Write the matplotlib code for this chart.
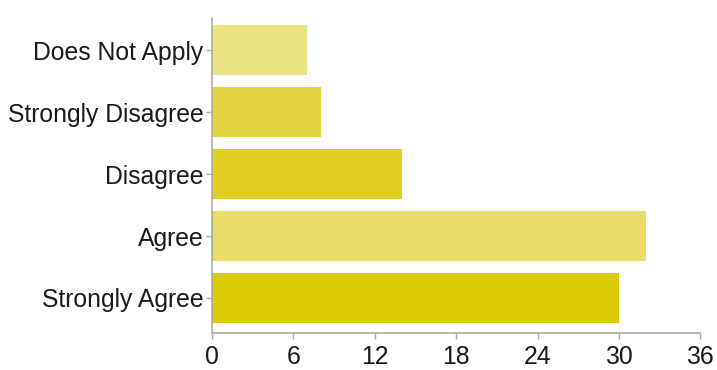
import matplotlib
matplotlib.use('Agg')
import matplotlib.pyplot as plt

# Categories listed bottom to top
categories = ['Strongly Agree', 'Agree', 'Disagree', 'Strongly Disagree', 'Does Not Apply']
counts = [30, 32, 14, 8, 7]
bar_colors = ['#dccb00', '#e8dd66', '#e0cf22', '#e4d43f', '#ece384']
x_ticks = [0, 6, 12, 18, 24, 30, 36]

plt.rcParams['font.family'] = ['Liberation Sans', 'DejaVu Sans']

fig = plt.figure(figsize=(7.17, 3.70), dpi=100)
ax = fig.add_axes([0.2957, 0.1, 0.6810, 0.851])

ax.barh(range(len(categories)), counts, height=0.8, color=bar_colors)

ax.set_yticks(range(len(categories)))
ax.set_yticklabels(categories)
ax.set_xticks(x_ticks)
ax.set_xlim(0, 36)
ax.set_ylim(-0.565, 4.516)

for side in ['top', 'right']:
    ax.spines[side].set_visible(False)
for side in ['left', 'bottom']:
    ax.spines[side].set_color('#aaaaaa')
    ax.spines[side].set_linewidth(1.2)

ax.tick_params(axis='both', colors='#aaaaaa', length=4, width=1, labelsize=17.8,
               labelcolor='#1a1a1a', pad=2)
ax.tick_params(axis='x', pad=5)

fig.savefig('out.png', dpi=100)
